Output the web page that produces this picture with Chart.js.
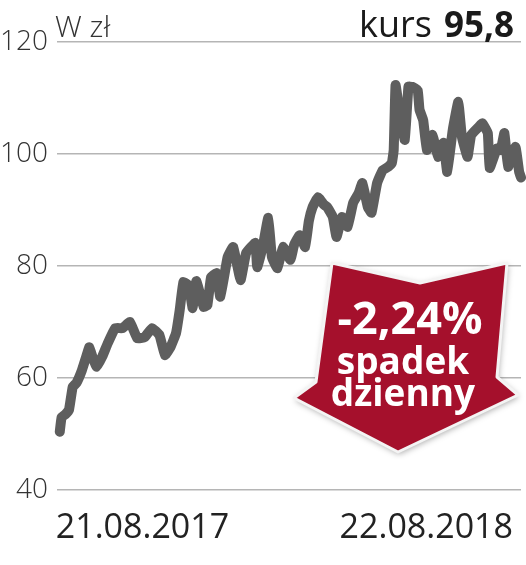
<!DOCTYPE html>
<html>
<head>
<meta charset="utf-8">
<script src="https://cdn.jsdelivr.net/npm/chart.js@4.4.1/dist/chart.umd.min.js"></script>
<style>
  html, body { margin: 0; padding: 0; background: #fff; }
  #wrap { width: 526px; height: 565px; }
</style>
</head>
<body>
<div id="wrap"><canvas id="chart" width="526" height="565"></canvas></div>
<script>
// trading-day index of each sampled point (0 = 21.08.2017, 250 = 22.08.2018)
const days = [
    0, 1, 3, 5, 7, 9, 12, 15, 16, 18, 20, 23, 26, 30, 34, 38, 42, 46, 50, 54,
    57, 60, 63, 65, 67, 70, 72, 74, 78, 80, 82, 85, 87, 91, 94, 98, 101, 106, 107, 110,
    113, 115, 118, 121, 125, 127, 130, 133, 135, 137, 140, 143, 145, 148, 150, 153, 156, 159, 162, 164,
    167, 169, 172, 175, 178, 180, 181, 182, 184, 187, 189, 191, 194, 195, 197, 199, 202, 205, 208, 210,
    213, 216, 218, 221, 223, 227, 229, 232, 233, 237, 239, 241, 243, 247, 249, 250
];
// closing price, zł
const prices = [
    50.4, 53, 53.5, 54.3, 58.4, 59.1, 61.4, 64.5, 65.5, 63.5, 62, 63.8, 66.2, 68.9, 68.9, 70, 67.1, 67.3, 68.9, 67.7,
    64.1, 65.5, 68, 72.1, 77.1, 76.5, 72.5, 77.3, 72.7, 73, 78, 78.7, 74.5, 81.6, 83.4, 77.5, 82.3, 84.1, 79.8, 83.4,
    88.6, 81.6, 79.6, 83.4, 81.1, 83.75, 85.5, 83.4, 88, 90.5, 92.3, 91, 90.5, 88.75, 85.2, 88.75, 87, 91.25, 93, 94.8,
    90.5, 89.5, 94.8, 97.1, 97.7, 98.4, 100.7, 112.3, 107.9, 102.5, 112, 112, 111.4, 107.9, 106, 100.7, 103.4, 99.5, 102, 96.8,
    104.3, 109.3, 103, 99.5, 103.4, 104.8, 105.5, 103.75, 97.5, 101, 100.7, 103.75, 97.7, 101.25, 96.8, 95.8
];
const yTicks = [40, 60, 80, 100, 120];
const dateLabels = ["21.08.2017", "22.08.2018"];
const unitLabel = "W zł";
const lastPrice = "95,8";
const changeText = ["-2,24%", "spadek", "dzienny"];

const points = days.map((d, i) => ({ x: d, y: prices[i] }));

// header, dates and the red arrow
const decorPlugin = {
    id: "decor",
    afterDraw(chart) {
        const ctx = chart.ctx;
        const xs = chart.scales.x;
        const area = chart.chartArea;
        ctx.save();

        // header
        ctx.textBaseline = "alphabetic";
        ctx.fillStyle = "#333";
        ctx.font = "300 30px 'Open Sans'";
        ctx.textAlign = "left";
        ctx.fillText(unitLabel, 55, 37);

        ctx.fillStyle = "#1a1a1a";
        ctx.textAlign = "right";
        ctx.font = "bold 35px 'Open Sans'";
        const numW = ctx.measureText(lastPrice).width;
        ctx.fillText(lastPrice, 514, 37);
        ctx.font = "36px 'Open Sans'";
        ctx.fillText("kurs", 514 - numW - 12, 37);

        // dates under the axis
        ctx.font = "34px 'Open Sans'";
        ctx.fillStyle = "#222";
        ctx.textAlign = "left";
        ctx.fillText(dateLabels[0], xs.getPixelForValue(0) - 4, area.bottom + 48);
        ctx.textAlign = "right";
        ctx.fillText(dateLabels[1], xs.getPixelForValue(250) - 8, area.bottom + 48);

        // arrow
        ctx.beginPath();
        ctx.moveTo(332, 263);
        ctx.lineTo(420, 283);
        ctx.lineTo(507, 263);
        ctx.lineTo(497, 377);
        ctx.lineTo(518, 395);
        ctx.lineTo(398, 452);
        ctx.lineTo(294, 398);
        ctx.lineTo(316, 382);
        ctx.closePath();
        ctx.shadowColor = "rgba(0,0,0,0.35)";
        ctx.shadowBlur = 6;
        ctx.shadowOffsetX = 1;
        ctx.shadowOffsetY = 2;
        ctx.fillStyle = "#a5102c";
        ctx.fill();
        ctx.shadowColor = "transparent";
        ctx.lineJoin = "round";
        ctx.lineWidth = 3;
        ctx.strokeStyle = "#f4f4f4";
        ctx.stroke();

        ctx.fillStyle = "#fff";
        ctx.textAlign = "center";
        ctx.font = "bold 45px 'Open Sans'";
        ctx.fillText(changeText[0], 410, 334);
        ctx.font = "bold 37px 'Open Sans'";
        ctx.fillText(changeText[1], 403, 374);
        ctx.fillText(changeText[2], 403, 406);

        ctx.restore();
    }
};

new Chart(document.getElementById("chart"), {
    type: "line",
    data: {
        datasets: [{
            data: points,
            borderColor: "#5e5e5e",
            borderWidth: 10,
            borderCapStyle: "round",
            borderJoinStyle: "round",
            pointRadius: 0,
            tension: 0.1,
            fill: false,
            clip: false,
        }],
    },
    options: {
        responsive: false,
        animation: false,
        layout: { padding: { left: 0, right: 5, top: 42, bottom: 75 } },
        plugins: {
            legend: { display: false },
            tooltip: { enabled: false },
        },
        scales: {
            x: {
                type: "linear",
                min: -1.5,
                max: 250,
                display: false,
            },
            y: {
                min: 40,
                max: 120,
                afterBuildTicks: (s) => { s.ticks = yTicks.map(v => ({ value: v })); },
                afterFit: (s) => { s.width = 57; },
                border: { display: false },
                grid: { color: "#b5b5b5", lineWidth: 1.5, drawTicks: false },
                ticks: {
                    padding: 9,
                    color: "#333",
                    font: { family: "'Open Sans'", size: 28, weight: "300" },
                },
            },
        },
    },
    plugins: [decorPlugin],
});
</script>
</body>
</html>
